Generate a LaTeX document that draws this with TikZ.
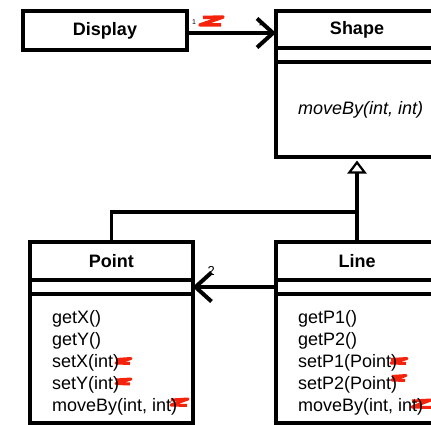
\documentclass[tikz,border=0pt]{standalone}
\usepackage{fontspec}
\setmainfont{Liberation Sans}
\usetikzlibrary{positioning,arrows.meta}
\definecolor{scribble}{HTML}{F5230C}

\begin{document}
\begin{tikzpicture}[x=1pt,y=-1pt,
  box/.style={draw, line width=4pt, inner sep=0pt, outer sep=0pt},
  title/.style={box, font=\bfseries\fontsize{18}{22}\selectfont},
  ops/.style={inner sep=0pt, align=left, font=\fontsize{18}{22}\selectfont},
  assoc/.style={line width=4pt, -{Straight Barb[length=16pt, width=29pt]}},
  gen/.style={line width=3.5pt},
  mult/.style={inner sep=0pt, font=\fontsize{7}{8}\selectfont},
  redmark/.style={draw=scribble, line width=3.5pt, line join=round}]
\useasboundingbox (0,0) rectangle (431,425);

% red scribbles, under the text
\draw[redmark] (203,17.5) -- (223,17) -- (200,25) -- (221,25);
\draw[redmark, line width=3pt] (116,359.5) -- (131,358.5) -- (116,363) -- (130,363.5);
\draw[redmark, line width=3pt] (116,380) -- (131,379) -- (116,383.5) -- (130,384);
\draw[redmark, line width=3pt] (171,400) -- (188,399) -- (171,405) -- (187,405.5);
\draw[redmark, line width=3pt] (391,359.5) -- (407,358.5) -- (391,363) -- (406,363.5);
\draw[redmark, line width=3pt] (392,376.5) -- (406,375.5) -- (392,380) -- (405,380.5);
\draw[redmark, line width=3pt] (412,401) -- (431,400) -- (412,407) -- (431,407.5);

% classes
\node[title, minimum width=164pt, minimum height=39pt] (display) at (105,30.5) {Display};

\node[title, minimum width=162pt, minimum height=37.5pt] (shapeT) at (357,29.75) {Shape};
\node[box, minimum width=162pt, minimum height=14pt, below=0pt of shapeT] (shapeA) {};
\node[box, minimum width=162pt, minimum height=95pt, below=0pt of shapeA] (shapeM) {};
\node[ops, font=\itshape\fontsize{18}{22}\selectfont, right=22pt of shapeM.west] (shapeOps) {moveBy(int, int)};

\node[title, minimum width=162.5pt, minimum height=38pt] (pointT) at (111.25,261) {Point};
\node[box, minimum width=162.5pt, minimum height=14pt, below=0pt of pointT] (pointA) {};
\node[box, minimum width=162.5pt, minimum height=128.5pt, below=0pt of pointA] (pointM) {};
\node[ops, anchor=north west] (pointOps) at ([shift={(22,16)}]pointM.north west)
  {getX()\\getY()\\setX(int)\\setY(int)\\moveBy(int, int)};

\node[title, minimum width=162pt, minimum height=38pt] (lineT) at (357,261) {Line};
\node[box, minimum width=162pt, minimum height=14pt, below=0pt of lineT] (lineA) {};
\node[box, minimum width=162pt, minimum height=128.5pt, below=0pt of lineA] (lineM) {};
\node[ops, anchor=north west] (lineOps) at ([shift={(22,16)}]lineM.north west)
  {getP1()\\getP2()\\setP1(Point)\\setP2(Point)\\moveBy(int, int)};

% associations
\draw[assoc] ([yshift=-2.5pt]display.east) -- ([yshift=-2.5pt]display.east -| shapeT.west);
\node[mult, above right=6pt and 5pt of display.east] (dispMult) {1};
\node[mult, above left=1pt and 14pt of shapeT.west] (shapeMult) {*};
\draw[assoc] (lineA.west) -- (pointA.east);
\node[mult, font=\fontsize{13}{14}\selectfont, above right=11pt and 15pt of pointA.east] (pointMult) {2};

% generalization
\path (lineT.north) ++(0,-30) coordinate (split);
\draw[gen, shorten >=3pt, -{Triangle[open, fill=white, line width=2.2pt, length=13pt, width=19pt]}] (lineT.north) -- (shapeM.south);
\draw[gen] (pointT.north) |- (split);
\end{tikzpicture}
\end{document}
